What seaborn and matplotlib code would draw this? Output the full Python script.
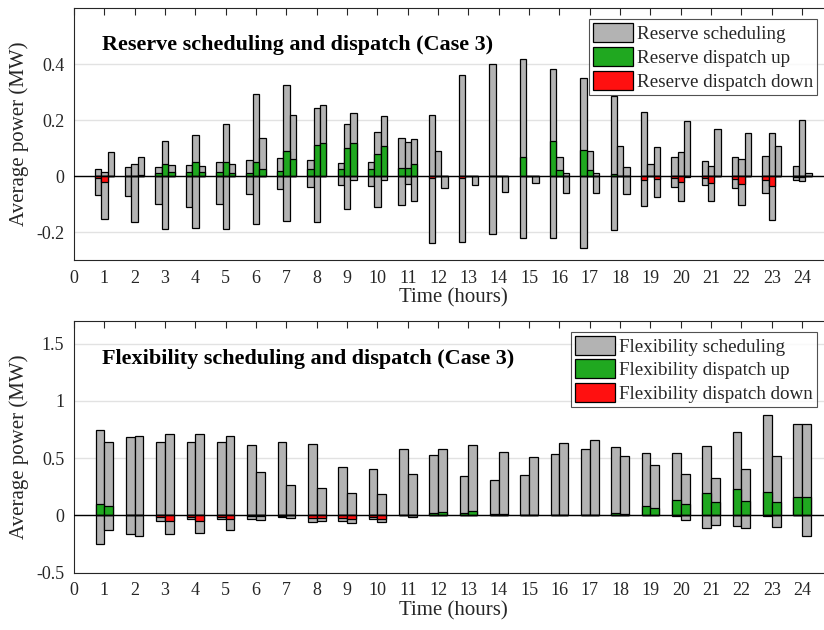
import numpy as np
import pandas as pd
import matplotlib
matplotlib.use("Agg")
import matplotlib.pyplot as plt
from matplotlib.patches import Patch
from matplotlib.ticker import FormatStrFormatter
import seaborn as sns

hours = list(range(1, 25))

# ---------------- Reserve (3 bars per hour) ----------------
res_up_a = [0.026, 0.032, 0.031, 0.040, 0.049, 0.058, 0.063, 0.056, 0.046, 0.052, 0.135, 0.220,
            0.360, 0.400, 0.417, 0.382, 0.352, 0.288, 0.230, 0.067, 0.055, 0.070, 0.071, 0.035]
res_dn_a = [-0.068, -0.071, -0.098, -0.110, -0.101, -0.065, -0.046, -0.040, -0.033, -0.036, -0.105, -0.240,
            -0.237, -0.208, -0.223, -0.223, -0.256, -0.193, -0.108, -0.040, -0.033, -0.044, -0.062, -0.015]
res_gu_a = [0.0, 0.0, 0.010, 0.013, 0.013, 0.010, 0.017, 0.025, 0.024, 0.024, 0.029, 0.0,
            0.0, 0.0, 0.068, 0.124, 0.095, 0.006, 0.0, 0.0, 0.0, 0.0, 0.0, 0.0]
res_rd_a = [-0.008, 0.0, 0.0, 0.0, 0.0, 0.0, 0.0, 0.0, 0.0, 0.0, 0.0, -0.008,
            -0.008, 0.0, 0.0, 0.0, 0.0, 0.0, -0.015, -0.008, -0.008, -0.012, -0.015, -0.003]

res_up_b = [0.013, 0.044, 0.126, 0.148, 0.185, 0.293, 0.326, 0.242, 0.188, 0.157, 0.121, 0.090,
            0.002, 0.0, 0.0, 0.069, 0.089, 0.108, 0.044, 0.085, 0.036, 0.060, 0.155, 0.199]
res_dn_b = [-0.155, -0.164, -0.190, -0.187, -0.188, -0.171, -0.162, -0.164, -0.119, -0.112, -0.030, 0.0,
            0.0, 0.0, 0.0, 0.0, 0.0, 0.0, 0.0, -0.088, -0.088, -0.102, -0.156, -0.019]
res_gu_b = [0.0, 0.0, 0.043, 0.052, 0.049, 0.050, 0.089, 0.111, 0.100, 0.079, 0.029, 0.0,
            0.0, 0.0, 0.0, 0.021, 0.021, 0.002, 0.0, 0.0, 0.0, 0.0, 0.0, 0.0]
res_rd_b = [-0.020, 0.0, 0.0, 0.0, 0.0, 0.0, 0.0, 0.0, 0.0, 0.0, 0.0, 0.0,
            0.0, 0.0, 0.0, 0.0, 0.0, 0.0, 0.0, -0.020, -0.024, -0.030, -0.037, -0.003]

res_up_c = [0.087, 0.070, 0.038, 0.037, 0.042, 0.135, 0.218, 0.255, 0.225, 0.214, 0.131, 0.002,
            0.0, 0.0, 0.0, 0.011, 0.012, 0.033, 0.105, 0.196, 0.170, 0.154, 0.107, 0.010]
res_dn_c = [0.0, 0.0, 0.0, 0.0, 0.0, 0.0, 0.0, 0.0, -0.014, -0.015, -0.090, -0.044,
            -0.032, -0.056, -0.026, -0.061, -0.061, -0.064, -0.073, -0.005, 0.0, 0.0, 0.0, 0.0]
res_gu_c = [0.0, 0.003, 0.013, 0.013, 0.010, 0.024, 0.062, 0.117, 0.120, 0.107, 0.045, 0.0,
            0.0, 0.0, 0.0, 0.0, 0.0, 0.0, 0.0, 0.0, 0.0, 0.0, 0.0, 0.0]
res_rd_c = [0.0, 0.0, 0.0, 0.0, 0.0, 0.0, 0.0, 0.0, 0.0, 0.0, 0.0, 0.0,
            0.0, 0.0, 0.0, 0.0, 0.0, 0.0, -0.012, 0.0, 0.0, 0.0, 0.0, 0.0]

# ---------------- Flexibility (2 bars per hour) ----------------
flx_up_a = [0.744, 0.689, 0.640, 0.637, 0.642, 0.613, 0.640, 0.625, 0.424, 0.404, 0.581, 0.526,
            0.346, 0.305, 0.355, 0.535, 0.584, 0.599, 0.547, 0.547, 0.605, 0.730, 0.878, 0.797]
flx_dn_a = [-0.250, -0.160, -0.049, -0.035, -0.029, -0.032, -0.017, -0.058, -0.052, -0.029, 0.0, 0.0,
            0.0, 0.0, 0.0, 0.0, 0.0, 0.0, 0.0, -0.005, -0.108, -0.090, -0.005, 0.0]
flx_gu_a = [0.096, 0.005, 0.0, 0.0, 0.0, 0.0, 0.0, 0.0, 0.0, 0.0, 0.0, 0.020,
            0.017, 0.009, 0.0, 0.0, 0.0, 0.017, 0.078, 0.134, 0.198, 0.230, 0.203, 0.163]
flx_rd_a = [0.0, 0.0, -0.017, -0.015, -0.015, -0.005, -0.005, -0.026, -0.026, -0.012, 0.0, 0.0,
            0.0, 0.0, 0.0, 0.0, 0.0, 0.0, 0.0, 0.0, 0.0, 0.0, 0.0, 0.0]

flx_up_b = [0.637, 0.692, 0.712, 0.709, 0.692, 0.381, 0.265, 0.238, 0.195, 0.189, 0.366, 0.576,
            0.619, 0.552, 0.506, 0.634, 0.660, 0.520, 0.436, 0.366, 0.328, 0.401, 0.515, 0.800]
flx_dn_b = [-0.128, -0.180, -0.163, -0.154, -0.131, -0.040, -0.023, -0.049, -0.064, -0.058, -0.012, 0.0,
            0.0, 0.0, 0.0, 0.0, 0.0, 0.0, 0.0, -0.044, -0.087, -0.110, -0.102, -0.177]
flx_gu_b = [0.078, 0.003, 0.0, 0.0, 0.0, 0.0, 0.0, 0.0, 0.0, 0.0, 0.0, 0.026,
            0.035, 0.009, 0.0, 0.0, 0.0, 0.015, 0.061, 0.096, 0.113, 0.128, 0.119, 0.163]
flx_rd_b = [0.0, 0.0, -0.052, -0.052, -0.035, -0.005, 0.0, -0.020, -0.035, -0.029, 0.0, 0.0,
            0.0, 0.0, 0.0, 0.0, 0.0, 0.0, 0.0, 0.0, 0.0, 0.0, 0.0, 0.0]

GRAY = "#b3b3b3"
GREEN = "#20a820"
RED = "#ff1010"


def long_frame(series_lists):
    rows = []
    for k, vals in enumerate(series_lists):
        for h, v in zip(hours, vals):
            rows.append({"hour": h, "bar": k, "value": v})
    return pd.DataFrame(rows)


sns.set_style("white")
plt.rcParams["font.family"] = ["Liberation Serif", "DejaVu Serif"]
plt.rcParams["text.color"] = "#262626"
plt.rcParams["axes.labelcolor"] = "#262626"
plt.rcParams["xtick.color"] = "#262626"
plt.rcParams["ytick.color"] = "#262626"

fig = plt.figure(figsize=(8.24, 6.30), dpi=100)
hour_px = 30.34
axw = 25 * hour_px / 824
ax1 = fig.add_axes([74 / 824, 1 - 260 / 630, axw, 251.7 / 630])
ax2 = fig.add_axes([74 / 824, 1 - 572.7 / 630, axw, 252 / 630])


def draw(ax, layers, nbar, width, ylim, yticks, title, labels, title_y):
    for series, color in layers:
        df = long_frame(series)
        sns.barplot(data=df, x="hour", y="value", hue="bar", native_scale=True,
                    palette=[color] * nbar, width=width, errorbar=None, legend=False,
                    edgecolor="black", linewidth=0.9, ax=ax, zorder=3, saturation=1)
    ax.axhline(0, color="black", lw=1.0, zorder=4)
    ax.set_xlim(0, 25)
    ax.set_ylim(*ylim)
    ax.set_xticks(range(0, 25))
    ax.set_yticks(yticks)
    ax.yaxis.set_major_formatter(FormatStrFormatter("%g"))
    ax.tick_params(direction="in", length=5, width=0.8, top=True, right=False,
                   labelsize=13, pad=7)
    ax.yaxis.grid(True, color="#e2e2e2", lw=1.0, zorder=0)
    ax.set_axisbelow(True)
    for s in ["top", "bottom", "left", "right"]:
        ax.spines[s].set_color("#262626")
        ax.spines[s].set_linewidth(0.8)
    ax.set_xlabel("Time (hours)", fontsize=15, labelpad=1)
    ax.set_ylabel("Average power (MW)", fontsize=15, labelpad=5)
    ax.text(0.037, title_y, title, transform=ax.transAxes, fontsize=15.9,
            fontweight="bold", color="black", va="center", ha="left")
    handles = [Patch(facecolor=GRAY, edgecolor="black", lw=0.9),
               Patch(facecolor=GREEN, edgecolor="black", lw=0.9),
               Patch(facecolor=RED, edgecolor="black", lw=0.9)]
    leg = ax.legend(handles, labels, loc="upper right", bbox_to_anchor=(0.9795, 0.957),
                    fontsize=13.7, frameon=True, fancybox=False, edgecolor="#262626",
                    borderpad=0.22, labelspacing=0.2, handlelength=2.1, handleheight=1.15,
                    handletextpad=0.2, borderaxespad=0.0)
    leg.get_frame().set_linewidth(0.8)
    leg.set_zorder(10)


draw(ax1,
     [([res_up_a, res_up_b, res_up_c], GRAY),
      ([res_dn_a, res_dn_b, res_dn_c], GRAY),
      ([res_gu_a, res_gu_b, res_gu_c], GREEN),
      ([res_rd_a, res_rd_b, res_rd_c], RED)],
     3, 0.63, (-0.3, 0.6), [-0.2, 0, 0.2, 0.4],
     "Reserve scheduling and dispatch (Case 3)",
     ["Reserve scheduling", "Reserve dispatch up", "Reserve dispatch down"], 0.855)

draw(ax2,
     [([flx_up_a, flx_up_b], GRAY),
      ([flx_dn_a, flx_dn_b], GRAY),
      ([flx_gu_a, flx_gu_b], GREEN),
      ([flx_rd_a, flx_rd_b], RED)],
     2, 0.58, (-0.5, 1.7), [-0.5, 0, 0.5, 1, 1.5],
     "Flexibility scheduling and dispatch (Case 3)",
     ["Flexibility scheduling", "Flexibility dispatch up", "Flexibility dispatch down"], 0.848)

fig.savefig("out.png", dpi=100)
